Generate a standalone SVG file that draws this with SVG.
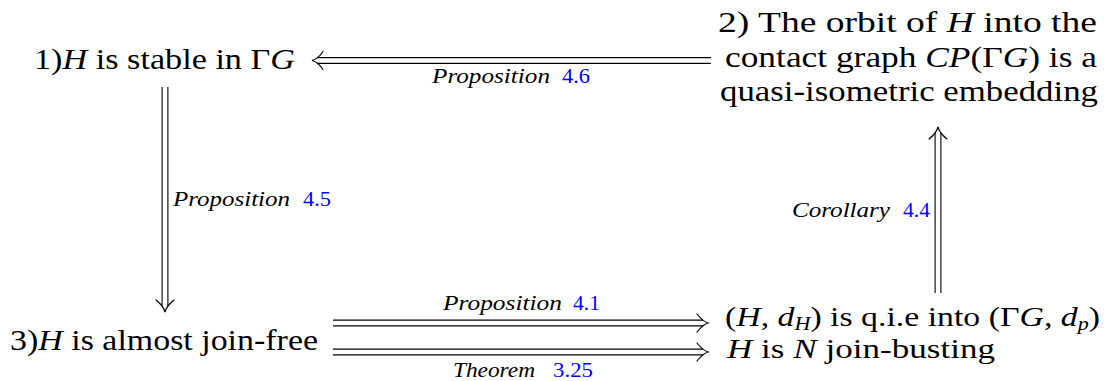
<svg xmlns="http://www.w3.org/2000/svg" width="1109" height="381" viewBox="0 0 1109 381">
<style>
.t{font-size:29px;fill:#000}
.u{font-size:27.5px;fill:#000}
.i{font-style:italic}
.s{font-size:18px}
.lb{font-size:20px;font-style:italic;fill:#000}
.n{font-size:20px;fill:#0000ff}
.ln{stroke:#000;stroke-width:1.1;fill:none}
.hd{stroke:#000;stroke-width:1.2;fill:none;stroke-linecap:round}
</style>
<rect width="1109" height="381" fill="#fff"/>
<g id="node1">
<text class="t" font-family="Liberation Serif, serif" x="34" y="69" textLength="261" lengthAdjust="spacingAndGlyphs">1)<tspan class="i">H</tspan> is stable in Γ<tspan class="i">G</tspan></text>
</g>
<g id="node2">
<text class="t" font-family="Liberation Serif, serif" x="718" y="32" textLength="379" lengthAdjust="spacingAndGlyphs">2) The orbit of <tspan class="i">H</tspan> into the</text>
<text class="t" font-family="Liberation Serif, serif" x="725" y="67" textLength="372" lengthAdjust="spacingAndGlyphs">contact graph <tspan class="i">CP</tspan>(Γ<tspan class="i">G</tspan>) is a</text>
<text class="t" font-family="Liberation Serif, serif" x="720" y="101" textLength="378" lengthAdjust="spacingAndGlyphs">quasi-isometric embedding</text>
</g>
<g id="node3">
<text class="t" font-family="Liberation Serif, serif" x="10" y="350" textLength="308" lengthAdjust="spacingAndGlyphs">3)<tspan class="i">H</tspan> is almost join-free</text>
</g>
<g id="node4">
<text class="u" font-family="Liberation Serif, serif" x="725" y="326" textLength="375" lengthAdjust="spacingAndGlyphs">(<tspan class="i">H</tspan>, <tspan class="i">d</tspan><tspan class="i s" dy="4">H</tspan><tspan dy="-4">) is q.i.e into (Γ</tspan><tspan class="i">G</tspan>, <tspan class="i">d</tspan><tspan class="i s" dy="4">p</tspan><tspan dy="-4">)</tspan></text>
</g>
<g id="node5">
<text class="u" font-family="Liberation Serif, serif" x="727" y="358" textLength="268" lengthAdjust="spacingAndGlyphs"><tspan class="i">H</tspan> is <tspan class="i">N</tspan> join-busting</text>
</g>
<g id="connectors">
<line class="ln" x1="317" y1="57.6" x2="711" y2="57.6"/>
<line class="ln" x1="317" y1="63.4" x2="711" y2="63.4"/>
<path class="hd" d="M323 51.5 Q318 59 312 60.5 Q318 62 323 69.5"/>
<text class="lb" font-family="Liberation Serif, serif" x="432" y="83" textLength="118" lengthAdjust="spacingAndGlyphs">Proposition</text>
<text class="n" font-family="Liberation Serif, serif" x="562" y="83" textLength="28" lengthAdjust="spacingAndGlyphs">4.6</text>
<line class="ln" x1="162.1" y1="87" x2="162.1" y2="306"/>
<line class="ln" x1="167.9" y1="87" x2="167.9" y2="306"/>
<path class="hd" d="M156 300 Q163.5 306 165 312 Q166.5 306 174 300"/>
<text class="lb" font-family="Liberation Serif, serif" x="173" y="206" textLength="117" lengthAdjust="spacingAndGlyphs">Proposition</text>
<text class="n" font-family="Liberation Serif, serif" x="303" y="206" textLength="28" lengthAdjust="spacingAndGlyphs">4.5</text>
<line class="ln" x1="935.1" y1="133" x2="935.1" y2="293"/>
<line class="ln" x1="940.9" y1="133" x2="940.9" y2="293"/>
<path class="hd" d="M929 139 Q936.5 133 938 127 Q939.5 133 947 139"/>
<text class="lb" font-family="Liberation Serif, serif" x="792" y="217" textLength="98" lengthAdjust="spacingAndGlyphs">Corollary</text>
<text class="n" font-family="Liberation Serif, serif" x="903" y="217" textLength="27" lengthAdjust="spacingAndGlyphs">4.4</text>
<line class="ln" x1="333" y1="320.1" x2="703" y2="320.1"/>
<line class="ln" x1="333" y1="325.9" x2="703" y2="325.9"/>
<path class="hd" d="M697 314 Q703 321.5 708 323 Q703 324.5 697 332"/>
<text class="lb" font-family="Liberation Serif, serif" x="443" y="310" textLength="119" lengthAdjust="spacingAndGlyphs">Proposition</text>
<text class="n" font-family="Liberation Serif, serif" x="573" y="310" textLength="27" lengthAdjust="spacingAndGlyphs">4.1</text>
<line class="ln" x1="333" y1="349.1" x2="703" y2="349.1"/>
<line class="ln" x1="333" y1="354.9" x2="703" y2="354.9"/>
<path class="hd" d="M697 343 Q703 350.5 708 352 Q703 353.5 697 361"/>
<text class="lb" font-family="Liberation Serif, serif" x="453" y="377" textLength="82" lengthAdjust="spacingAndGlyphs">Theorem</text>
<text class="n" font-family="Liberation Serif, serif" x="553" y="377" textLength="40" lengthAdjust="spacingAndGlyphs">3.25</text>
</g>
</svg>
